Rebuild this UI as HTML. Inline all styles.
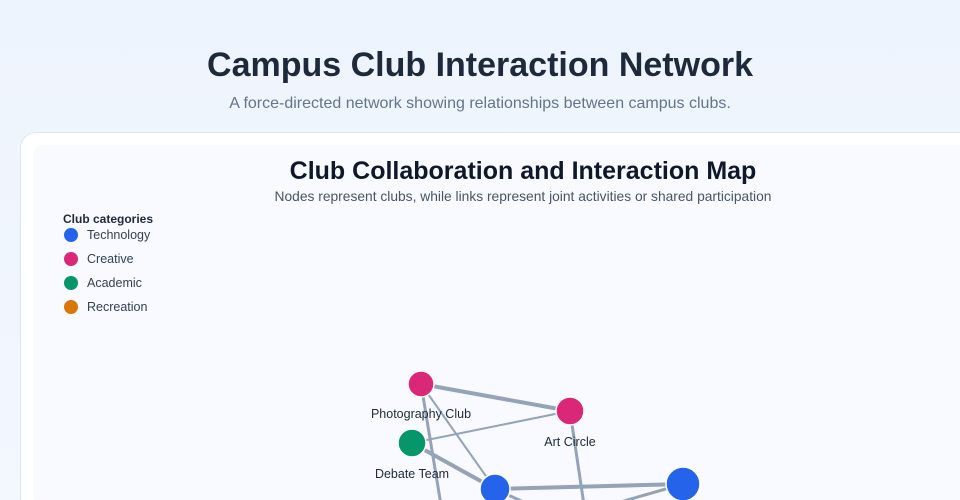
<!DOCTYPE html>
<html><head><meta charset="utf-8"><style>
html,body{margin:0;padding:0;width:960px;height:500px;overflow:hidden;background:linear-gradient(180deg,#eef4fd,#f3f7fe);font-family:"Liberation Sans","DejaVu Sans",sans-serif;position:relative;}
h1{position:absolute;top:46px;left:0;width:960px;text-align:center;margin:0;font-size:34px;font-weight:bold;color:#1e293b;}
.sub{position:absolute;top:95px;left:0;width:960px;text-align:center;font-size:16px;color:#64748b;}
.card{position:absolute;left:20px;top:132px;width:960px;height:380px;background:#fff;border:1px solid #dde5f1;border-radius:16px;}
.inner{position:absolute;left:33px;top:145px;width:940px;height:360px;background:#f8faff;border-radius:10px;}
</style></head><body>
<h1>Campus Club Interaction Network</h1>
<div class="sub">A force-directed network showing relationships between campus clubs.</div>
<div class="card"></div><div class="inner"></div>
<svg width="960" height="500" style="position:absolute;left:0;top:0" font-family="Liberation Sans, DejaVu Sans, sans-serif">
<text x="523" y="179" text-anchor="middle" font-size="25" font-weight="bold" fill="#0f172a">Club Collaboration and Interaction Map</text>
<text x="523" y="201" text-anchor="middle" font-size="13.8" fill="#475569">Nodes represent clubs, while links represent joint activities or shared participation</text>
<text x="63" y="223" font-size="12" font-weight="bold" fill="#1e293b">Club categories</text>
<g font-size="12.5" fill="#334155">
<circle cx="71" cy="235" r="7" fill="#2563eb"/><text x="87" y="239">Technology</text>
<circle cx="71" cy="259" r="7" fill="#db2777"/><text x="87" y="263">Creative</text>
<circle cx="71" cy="283" r="7" fill="#059669"/><text x="87" y="287">Academic</text>
<circle cx="71" cy="307" r="7" fill="#d97706"/><text x="87" y="311">Recreation</text>
</g>
<g stroke="#94a3b8">
<line x1="421" y1="384" x2="570" y2="411" stroke-width="4"/>
<line x1="421" y1="384" x2="441" y2="505" stroke-width="3"/>
<line x1="421" y1="384" x2="495" y2="489" stroke-width="2"/>
<line x1="412" y1="443" x2="570" y2="411" stroke-width="2"/>
<line x1="412" y1="443" x2="495" y2="489" stroke-width="4"/>
<line x1="570" y1="411" x2="584" y2="505" stroke-width="3"/>
<line x1="495" y1="489" x2="683" y2="484" stroke-width="4"/>
<line x1="495" y1="489" x2="530" y2="505" stroke-width="3"/>
<line x1="683" y1="484" x2="610" y2="505" stroke-width="3"/>
</g>
<g stroke="#fff" stroke-width="1.5">
<circle cx="421" cy="384" r="13" fill="#db2777"/>
<circle cx="570" cy="411" r="14" fill="#db2777"/>
<circle cx="412" cy="443" r="14" fill="#059669"/>
<circle cx="495" cy="489" r="15" fill="#2563eb"/>
<circle cx="683" cy="484" r="17" fill="#2563eb"/>
</g>
<g font-size="12.5" fill="#1e293b" text-anchor="middle">
<text x="421" y="418">Photography Club</text>
<text x="570" y="446">Art Circle</text>
<text x="412" y="478">Debate Team</text>
</g>
</svg>
</body></html>
